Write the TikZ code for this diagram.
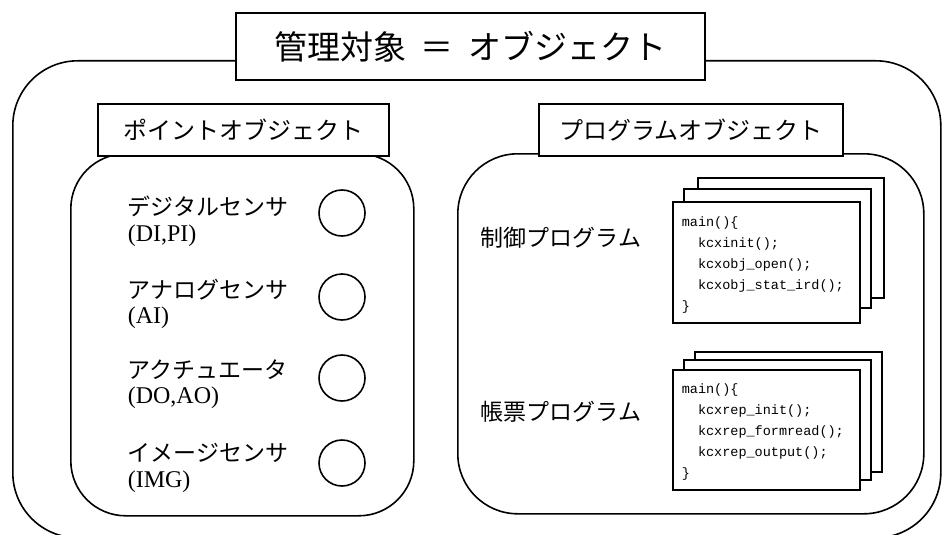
\documentclass[tikz,border=0pt]{standalone}
\usepackage{fontspec}
\setmainfont{Liberation Serif}
\setmonofont{Liberation Mono}
\newfontfamily\jp{Noto Sans CJK JP}
\begin{document}
\begin{tikzpicture}[x=1pt,y=-1pt,
  line width=1.6pt,
  frame/.style={draw, rounded corners=#1, inner sep=0pt, anchor=north west},
  labelbox/.style={draw, fill=white, inner sep=0pt, anchor=north west,
    font=\jp\fontsize{24}{24}\selectfont},
  sensor/.style={anchor=west, inner sep=0pt, font=\jp\fontsize{23}{23}\selectfont},
  sensorcode/.style={anchor=west, inner sep=0pt, font=\fontsize{24}{24}\selectfont},
  port/.style={draw, circle, minimum size=46pt, inner sep=0pt},
  page/.style={draw, fill=white, inner sep=0pt, anchor=north west},
  code/.style={anchor=west, inner sep=0pt, align=left,
    font=\ttfamily\fontsize{13.5}{21}\selectfont}
]
\useasboundingbox (0,0) rectangle (947,535);

% outer frame
\node[frame=65pt, minimum width=928pt, minimum height=477pt] (outer) at (12,60) {};
\node[draw, fill=white, inner sep=0pt, anchor=north west,
  minimum width=469pt, minimum height=67pt,
  font=\jp\fontsize{33}{33}\selectfont] (title) at (235,12)
  {管理対象\ \ ＝\ \ オブジェクト};

% point object group
\node[frame=55pt, minimum width=343pt, minimum height=362pt] (pointgrp) at (70,153) {};
\node[labelbox, minimum width=291pt, minimum height=52pt] (pointlbl) at (97,103) {ポイントオブジェクト};

\node[sensor] (s1a) at (127,206) {デジタルセンサ};
\node[sensorcode] (s1b) at (127,236) {(DI,PI)};
\node[sensor] (s2a) at (127,290) {アナログセンサ};
\node[sensorcode] (s2b) at (127,318) {(AI)};
\node[sensor] (s3a) at (127,370) {アクチュエータ};
\node[sensorcode] (s3b) at (127,398) {(DO,AO)};
\node[sensor] (s4a) at (127,453) {イメージセンサ};
\node[sensorcode] (s4b) at (127,482) {(IMG)};

\node[port] (c1) at (342,213) {};
\node[port] (c2) at (342,297) {};
\node[port] (c3) at (342,378) {};
\node[port] (c4) at (342,463) {};

% program object group
\node[frame=60pt, minimum width=466pt, minimum height=360pt] (proggrp) at (457,153) {};
\node[labelbox, minimum width=304pt, minimum height=52pt] (proglbl) at (538,103) {プログラムオブジェクト};

\node[sensor] (p1) at (480,238) {制御プログラム};
\node[sensor] (p2) at (480,412) {帳票プログラム};

% control program pages
\node[page, minimum width=186pt, minimum height=120pt] (cp3) at (697,177) {};
\node[page, minimum width=187pt, minimum height=119pt] (cp2) at (683,188) {};
\node[page, minimum width=187pt, minimum height=121pt] (cp1) at (672,201) {};
\node[code] (cpcode) at (681,265) {main()\{\\
\hspace*{16.2pt}kcxinit();\\
\hspace*{16.2pt}kcxobj\_open();\\
\hspace*{16.2pt}kcxobj\_stat\_ird();\\
\}};

% report program pages
\node[page, minimum width=187pt, minimum height=120pt] (rp3) at (694,351) {};
\node[page, minimum width=187pt, minimum height=120pt] (rp2) at (683,359) {};
\node[page, minimum width=187pt, minimum height=120pt] (rp1) at (672,369) {};
\node[code] (rpcode) at (681,432) {main()\{\\
\hspace*{16.2pt}kcxrep\_init();\\
\hspace*{16.2pt}kcxrep\_formread();\\
\hspace*{16.2pt}kcxrep\_output();\\
\}};
\end{tikzpicture}
\end{document}
